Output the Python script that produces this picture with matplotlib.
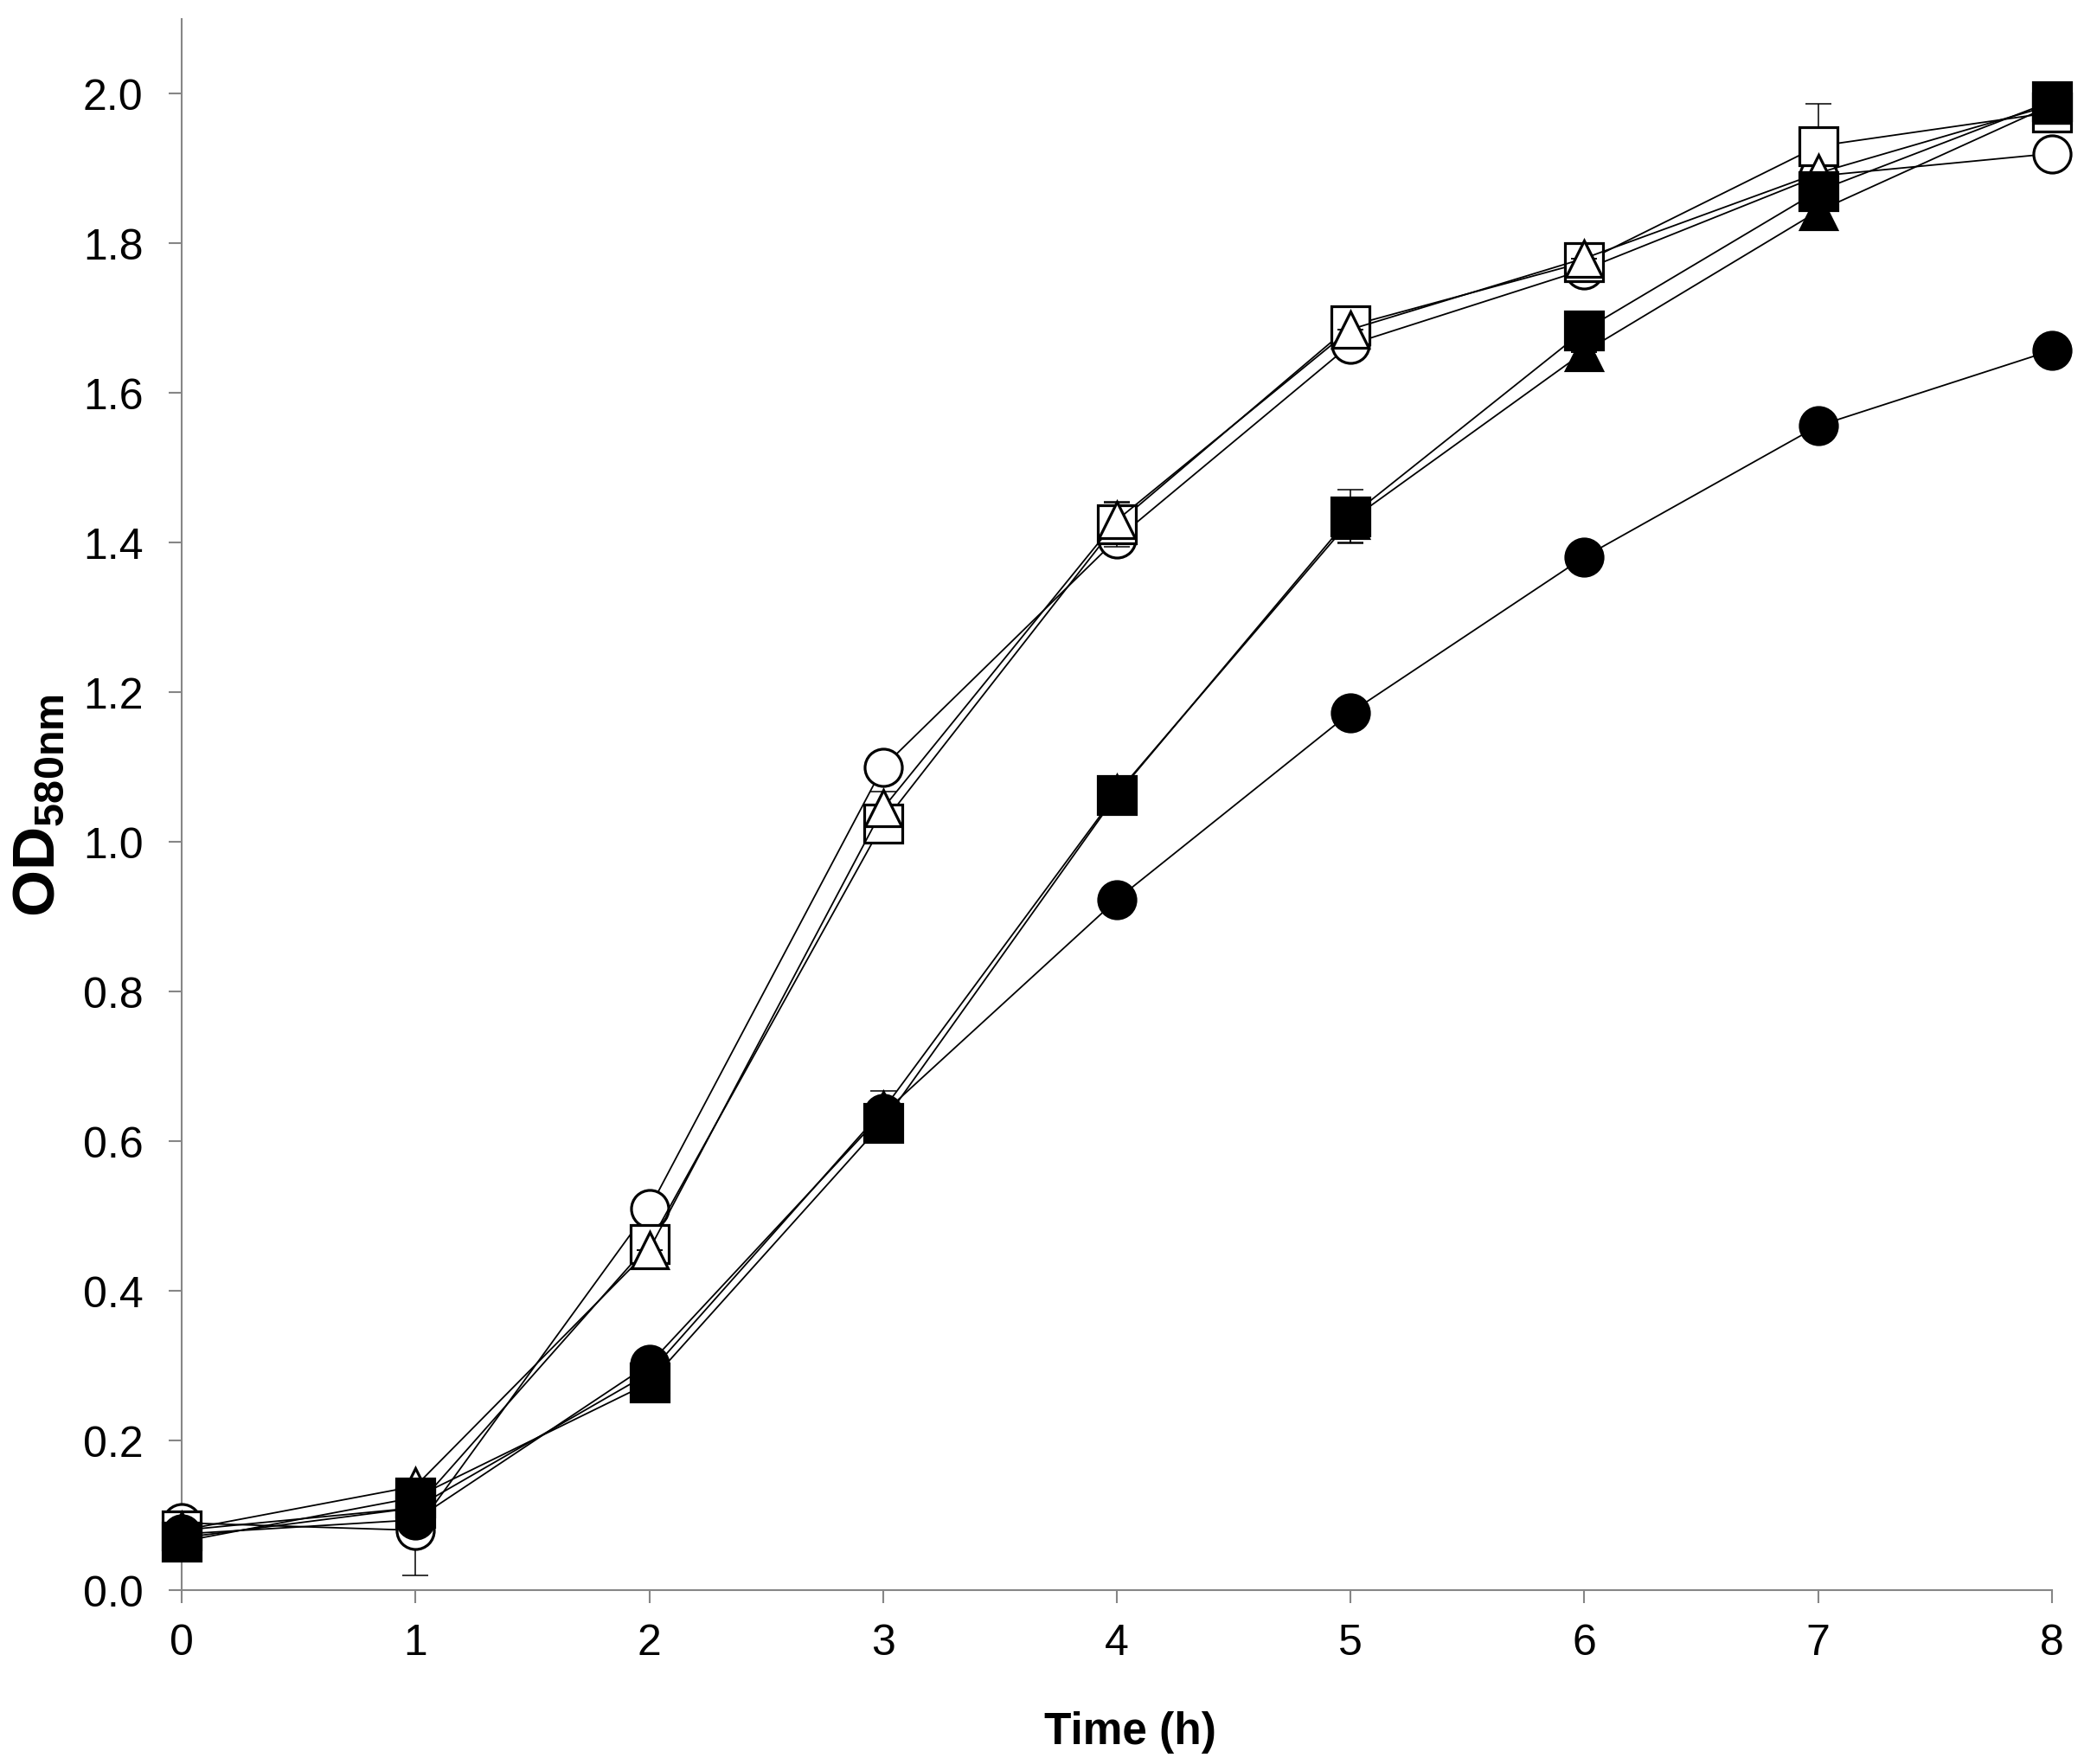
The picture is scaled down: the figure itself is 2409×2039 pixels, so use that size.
import numpy as np
import matplotlib
matplotlib.use("Agg")
import matplotlib.pyplot as plt

plt.rcParams['font.family'] = ['Liberation Sans', 'DejaVu Sans']
plt.rcParams['mathtext.fontset'] = 'custom'
plt.rcParams['mathtext.bf'] = 'Liberation Sans:bold'
plt.rcParams['mathtext.rm'] = 'Liberation Sans'

# time points (h)
time_h = [0, 1, 2, 3, 4, 5, 6, 7, 8]

# OD580nm readings, one list per strain
od_open_circle = [0.090, 0.080, 0.510, 1.100, 1.405, 1.665, 1.765, 1.890, 1.920]
od_open_square = [0.080, 0.110, 0.463, 1.025, 1.425, 1.690, 1.775, 1.930, 1.975]
od_open_triangle = [0.080, 0.139, 0.455, 1.045, 1.430, 1.685, 1.780, 1.894, 1.985]
od_filled_circle = [0.075, 0.094, 0.302, 0.637, 0.923, 1.173, 1.381, 1.556, 1.657]
od_filled_square = [0.065, 0.124, 0.277, 0.625, 1.063, 1.435, 1.684, 1.870, 1.990]
od_filled_triangle = [0.070, 0.110, 0.290, 0.642, 1.065, 1.430, 1.655, 1.843, 1.985]

# standard deviations
sd_open_circle = [0.00, 0.060, 0.00, 0.00, 0.00, 0.00, 0.00, 0.00, 0.00]
sd_open_square = [0.00, 0.00, 0.00, 0.00, 0.030, 0.00, 0.00, 0.057, 0.00]
sd_open_triangle = [0.00, 0.00, 0.00, 0.022, 0.023, 0.00, 0.00, 0.00, 0.00]
sd_filled_circle = [0.00, 0.00, 0.00, 0.00, 0.00, 0.00, 0.00, 0.00, 0.00]
sd_filled_square = [0.00, 0.00, 0.00, 0.00, 0.00, 0.036, 0.00, 0.00, 0.00]
sd_filled_triangle = [0.00, 0.00, 0.00, 0.025, 0.00, 0.030, 0.00, 0.00, 0.00]

series = [
    (od_open_circle, sd_open_circle, 'o', 'white'),
    (od_open_square, sd_open_square, 's', 'white'),
    (od_open_triangle, sd_open_triangle, '^', 'white'),
    (od_filled_circle, sd_filled_circle, 'o', 'black'),
    (od_filled_square, sd_filled_square, 's', 'black'),
    (od_filled_triangle, sd_filled_triangle, '^', 'black'),
]

fig = plt.figure(figsize=(24.09, 20.40), dpi=100)
ax = fig.add_axes([0.0872, 0.0985, 0.8974, 0.8903])

axis_grey = '#868686'

for i, (od, sd, mk, face) in enumerate(series):
    z = 3 + i
    ax.errorbar(time_h, od, yerr=sd, fmt='none', ecolor='black',
                elinewidth=1.1, capsize=11, capthick=1.1, zorder=z)
    ax.plot(time_h, od, color='black', lw=1.3, zorder=z)
    ms = 31 if mk != '^' else 30
    ax.plot(time_h, od, ls='none', marker=mk, ms=ms, mfc=face,
            mec='black', mew=2.3, zorder=z + 0.5, clip_on=False)

ax.set_xlim(0, 8)
ax.set_ylim(0, 2.1)
ax.set_xticks(np.arange(0, 9, 1))
ax.set_yticks(np.arange(0, 2.01, 0.2))
ax.set_yticklabels([f'{v:.1f}' for v in np.arange(0, 2.01, 0.2)])

for side in ['top', 'right']:
    ax.spines[side].set_visible(False)
for side in ['left', 'bottom']:
    ax.spines[side].set_color(axis_grey)
    ax.spines[side].set_linewidth(1.5)
    ax.spines[side].set_zorder(1)

ax.tick_params(axis='both', direction='out', length=11, width=1.5,
               color=axis_grey, labelsize=36, labelcolor='black')
ax.tick_params(axis='y', pad=21)
ax.tick_params(axis='x', pad=16)

ax.set_xlabel('Time (h)', fontsize=37, fontweight='bold', labelpad=40)
ax.xaxis.label.set_x(0.507)
ax.set_ylabel(r'$\mathbf{OD}_{\mathbf{580nm}}$', fontsize=50, labelpad=14)

fig.savefig('out.png', dpi=100)
